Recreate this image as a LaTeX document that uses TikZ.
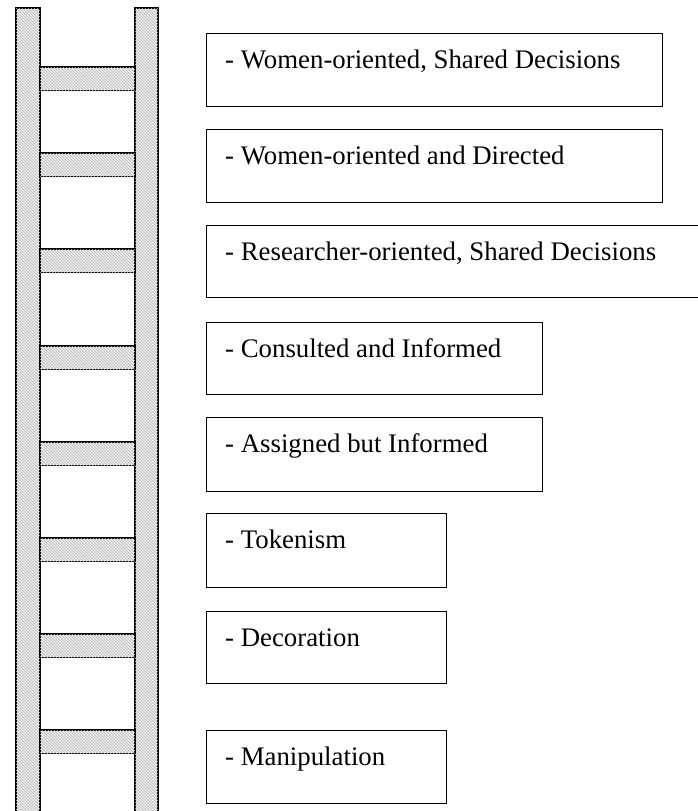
\documentclass[tikz,border=0pt]{standalone}
\usepackage{fontspec}
\setmainfont{Liberation Serif}
\usetikzlibrary{patterns}
\tikzset{
  wood/.style={draw=black, line width=1.7pt, fill=black!7,
    postaction={pattern=north west lines, pattern color=black!28}},
  levelbox/.style={draw=black, line width=1.1pt, anchor=north west,
    minimum height=73pt, inner sep=0pt},
  leveltext/.style={anchor=base west, inner sep=0pt,
    font=\fontsize{26.8}{32}\selectfont},
}
\begin{document}
\begin{tikzpicture}[x=1pt,y=-1pt]
\useasboundingbox (0,0) rectangle (698,811);
\clip (0,0) rectangle (698,811);
% rails
\draw[wood] (16,8) rectangle (40,830);
\draw[wood] (135,8) rectangle (158,830);
% rungs
\foreach \y [count=\i] in {67,153,249,346,442,538,634,730}{
  \draw[wood] (40,\y) rectangle (135,\y+23.5);
}
% boxes
\node[levelbox, minimum width=456pt, minimum height=73pt] (b1) at (206,33) {};
\node[levelbox, minimum width=456pt, minimum height=73pt] (b2) at (206,129) {};
\node[levelbox, minimum width=520pt, minimum height=72pt] (b3) at (206,225) {};
\node[levelbox, minimum width=336pt, minimum height=72pt] (b4) at (206,322) {};
\node[levelbox, minimum width=336pt, minimum height=74pt] (b5) at (206,417) {};
\node[levelbox, minimum width=240pt, minimum height=74pt] (b6) at (206,513) {};
\node[levelbox, minimum width=240pt, minimum height=72pt] (b7) at (206,611) {};
\node[levelbox, minimum width=240pt, minimum height=73pt] (b8) at (206,730) {};
% texts
\node[leveltext] (t1) at ([shift={(19pt,-35pt)}]b1.north west) {- Women-oriented, Shared Decisions};
\node[leveltext] (t2) at ([shift={(19pt,-35pt)}]b2.north west) {- Women-oriented and Directed};
\node[leveltext] (t3) at ([shift={(19pt,-35pt)}]b3.north west) {- Researcher-oriented, Shared Decisions};
\node[leveltext] (t4) at ([shift={(19pt,-35pt)}]b4.north west) {- Consulted and Informed};
\node[leveltext] (t5) at ([shift={(19pt,-35pt)}]b5.north west) {- Assigned but Informed};
\node[leveltext] (t6) at ([shift={(19pt,-35pt)}]b6.north west) {- Tokenism};
\node[leveltext] (t7) at ([shift={(19pt,-35pt)}]b7.north west) {- Decoration};
\node[leveltext] (t8) at ([shift={(19pt,-35pt)}]b8.north west) {- Manipulation};
\end{tikzpicture}
\end{document}
